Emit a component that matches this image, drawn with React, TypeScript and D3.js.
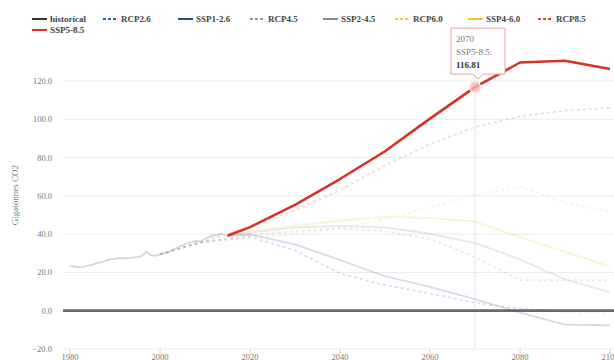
import React from 'react';
import * as d3 from 'd3';

// ---------- data ----------
const histYears = [1980, 1981, 1982, 1983, 1984, 1985, 1986, 1987, 1988, 1989, 1990, 1991, 1992, 1993, 1994, 1995, 1996, 1997, 1998, 1999, 2000, 2001, 2002, 2003, 2004, 2005, 2006, 2007, 2008, 2009, 2010, 2011, 2012, 2013, 2014];
const histValues = [23.6, 23.1, 22.8, 22.9, 23.5, 24.1, 24.8, 25.4, 26.2, 26.8, 27.2, 27.4, 27.4, 27.5, 27.7, 28.1, 28.6, 30.8, 29.0, 28.7, 29.4, 30.0, 30.7, 32.0, 33.3, 34.1, 35.0, 35.8, 36.4, 36.1, 37.6, 38.6, 39.3, 39.8, 40.2];

const rcpYears = [2000, 2005, 2010, 2020, 2030, 2040, 2050, 2060, 2070, 2080, 2090, 2100];
const rcp26 = [29.5, 33.0, 36.0, 38.6, 31.5, 19.5, 13.4, 9.0, 4.2, 1.0, -0.5, -0.5];
const rcp45 = [29.5, 33.0, 36.0, 39.5, 41.5, 43.0, 41.5, 37.5, 28.0, 16.0, 15.8, 15.8];
const rcp60 = [29.5, 33.0, 36.0, 38.0, 40.0, 43.0, 48.0, 54.0, 60.5, 64.7, 56.5, 51.6];
const rcp85 = [29.5, 33.0, 36.5, 43.5, 52.5, 63.0, 76.0, 87.0, 96.0, 101.5, 104.5, 106.0];

const sspYears = [2015, 2020, 2030, 2040, 2050, 2060, 2070, 2080, 2090, 2100];
const ssp126 = [39.15, 39.8, 34.7, 26.5, 18.0, 12.5, 6.0, -1.0, -7.3, -7.6];
const ssp245 = [39.15, 40.65, 43.48, 44.25, 43.46, 40.2, 35.34, 26.84, 16.32, 9.68];
const ssp460 = [39.15, 41.5, 44.5, 47.0, 49.0, 48.5, 46.5, 38.5, 30.8, 23.0];
const ssp585 = [39.15, 43.71, 55.3, 68.78, 83.3, 100.34, 116.81, 129.65, 130.58, 126.29];

const seriesNames = ['historical', 'RCP2.6', 'SSP1-2.6', 'RCP4.5', 'SSP2-4.5', 'RCP6.0', 'SSP4-6.0', 'RCP8.5', 'SSP5-8.5'];
const seriesColors = ['#333333', '#2f5d9e', '#1d4f91', '#8f97ab', '#8a8a8a', '#f2c744', '#f0c534', '#d9472b', '#d73027'];
const seriesDashed = [false, true, false, true, false, true, false, true, false];

const xTicks = [1980, 2000, 2020, 2040, 2060, 2080, 2100];
const yTicks = [-20, 0, 20, 40, 60, 80, 100, 120];

const hoverSeries = 'SSP5-8.5';
const hoverYear = 2070;
const yAxisTitle = 'Gigatonnes CO2';

// legend layout (row, left of icon)
const legendRows = [0, 0, 0, 0, 0, 0, 0, 0, 1];
const legendLeft = [32, 103, 178, 250, 323, 395, 468, 538, 32];

const seriesData: { x: number; y: number }[][] = [
  histYears.map((x, i) => ({ x, y: histValues[i] })),
  rcpYears.map((x, i) => ({ x, y: rcp26[i] })),
  sspYears.map((x, i) => ({ x, y: ssp126[i] })),
  rcpYears.map((x, i) => ({ x, y: rcp45[i] })),
  sspYears.map((x, i) => ({ x, y: ssp245[i] })),
  rcpYears.map((x, i) => ({ x, y: rcp60[i] })),
  sspYears.map((x, i) => ({ x, y: ssp460[i] })),
  rcpYears.map((x, i) => ({ x, y: rcp85[i] })),
  sspYears.map((x, i) => ({ x, y: ssp585[i] })),
];

const FONT = '"Liberation Serif", "Times New Roman", serif';

export default function App() {
  const W = 614;
  const H = 360;
  const gridLeft = 63;
  const gridRight = 614;

  const x = d3.scaleLinear().domain([1980, 2100]).range([70, 610]);
  const y = d3.scaleLinear().domain([-20, 120]).range([349, 81]);

  const line = d3
    .line<{ x: number; y: number }>()
    .x((d) => x(d.x))
    .y((d) => y(d.y));

  const hIdx = seriesNames.indexOf(hoverSeries);
  const hPoint = seriesData[hIdx].find((d) => d.x === hoverYear)!;
  const px = x(hPoint.x);
  const py = y(hPoint.y);
  const yTop = y(d3.max(ssp585) as number);

  const tipW = 54;
  const tipH = 46;
  const tipX = px - 24;
  const tipY = py - tipH - 13;

  return (
    <svg
      width={W}
      height={H}
      style={{ position: 'absolute', left: 0, top: 0, background: '#fff' }}
      fontFamily={FONT}
    >
      {/* grid lines */}
      {yTicks.map((t) => (
        <line key={'g' + t} x1={gridLeft} x2={gridRight} y1={y(t)} y2={y(t)} stroke="#ebebeb" strokeWidth={1} />
      ))}
      {/* y tick labels */}
      {yTicks.map((t) => (
        <text key={'yl' + t} x={52} y={y(t) + 3} textAnchor="end" fontSize={8.5} fill="#777">
          {d3.format('.1f')(t)}
        </text>
      ))}
      {/* x ticks */}
      {xTicks.map((t) => (
        <g key={'x' + t}>
          <line x1={x(t)} x2={x(t)} y1={349} y2={354} stroke="#d0d0d0" />
          <text x={x(t)} y={359.5} textAnchor="middle" fontSize={8.5} fill="#777">
            {t}
          </text>
        </g>
      ))}
      {/* y axis title */}
      <text
        transform={`translate(18, 195) rotate(-90)`}
        textAnchor="middle"
        fontSize={9}
        fill="#777"
      >
        {yAxisTitle}
      </text>

      {/* crosshair */}
      <line x1={px} x2={px} y1={yTop} y2={349} stroke="#e6e6e6" strokeWidth={1} />

      {/* zero axis line */}
      <line x1={gridLeft} x2={gridRight} y1={y(0)} y2={y(0)} stroke="#6a6a6a" strokeWidth={2.8} />

      {/* blurred series */}
      {seriesData.map((data, i) =>
        seriesNames[i] === hoverSeries ? null : (
          <path
            key={'s' + i}
            d={line(data) || ''}
            fill="none"
            stroke={seriesColors[i]}
            strokeOpacity={0.2}
            strokeWidth={1.8}
            strokeDasharray={seriesDashed[i] ? '3 3' : undefined}
          />
        )
      )}
      {/* highlighted series */}
      <path d={line(seriesData[hIdx]) || ''} fill="none" stroke={seriesColors[hIdx]} strokeWidth={2.5} strokeLinejoin="round" />

      {/* hover point */}
      <circle cx={px} cy={py} r={5.5} fill="#f3b6b3" fillOpacity={0.8} stroke="#fbe3e1" strokeWidth={1.5} />

      {/* tooltip */}
      <g>
        <path
          d={`M${tipX},${tipY} h${tipW} v${tipH} h${-(tipW / 2 - 5)} l-5,5 l-5,-5 h${-(tipW / 2 - 5)} z`}
          fill="#fff"
          stroke="#e7a3a3"
          strokeWidth={1}
        />
        <text x={tipX + 5} y={tipY + 14} fontSize={9} fill="#777">
          {hoverYear}
        </text>
        <text x={tipX + 5} y={tipY + 27} fontSize={9} fill="#777">
          {hoverSeries}:
        </text>
        <text x={tipX + 5} y={tipY + 40} fontSize={9} fontWeight="bold" fill="#333">
          {hPoint.y.toFixed(2)}
        </text>
      </g>

      {/* legend */}
      {seriesNames.map((name, i) => {
        const lx = legendLeft[i];
        const ly = legendRows[i] === 0 ? 19 : 30;
        return (
          <g key={'l' + i}>
            <line
              x1={lx}
              x2={lx + 15}
              y1={ly}
              y2={ly}
              stroke={seriesColors[i]}
              strokeWidth={2}
              strokeDasharray={seriesDashed[i] ? '3 2' : undefined}
            />
            <text x={lx + 18} y={ly + 3} fontSize={9} fontWeight="bold" fill="#444">
              {name}
            </text>
          </g>
        );
      })}
    </svg>
  );
}
